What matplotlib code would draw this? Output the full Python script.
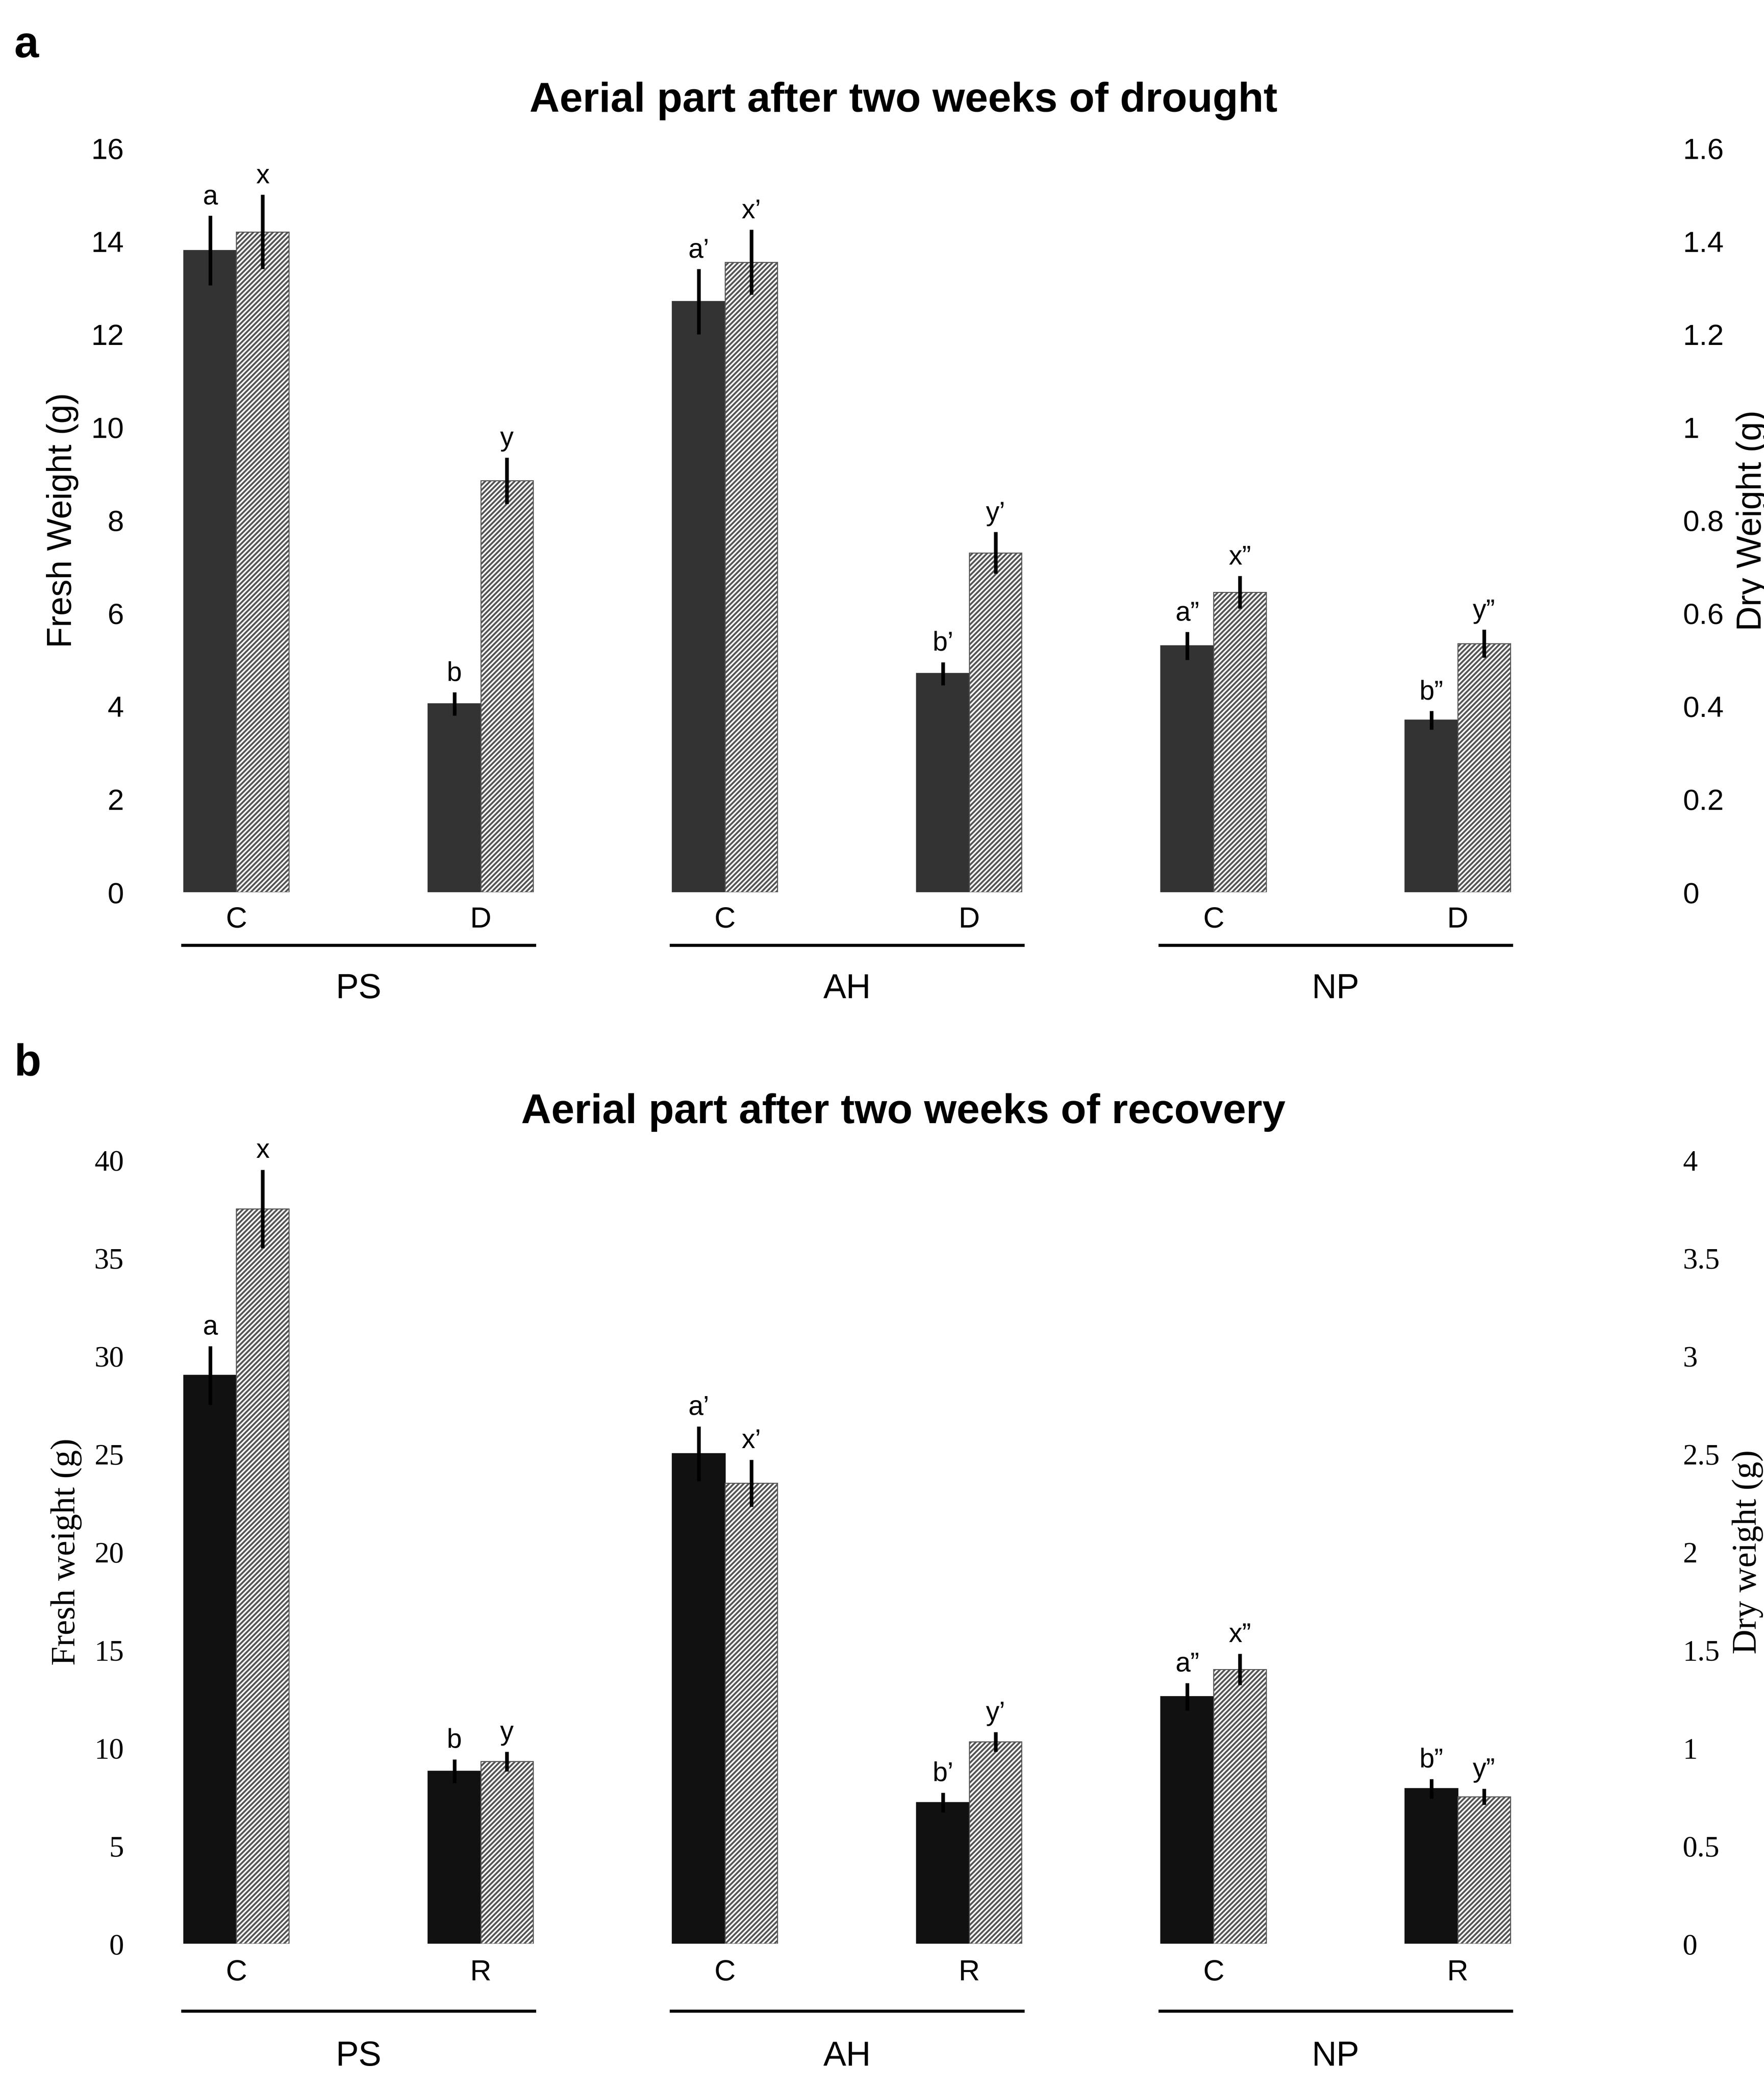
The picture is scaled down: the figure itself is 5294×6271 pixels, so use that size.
import numpy as np
import matplotlib.pyplot as plt

groups = ["PS", "AH", "NP"]
treat_a = ["C", "D"]
treat_b = ["C", "R"]

# panel a: drought
fresh_a = [13.8, 4.05, 12.7, 4.7, 5.3, 3.7]
fresh_a_err = [0.75, 0.25, 0.7, 0.25, 0.3, 0.2]
dry_a = [1.42, 0.885, 1.355, 0.73, 0.645, 0.535]
dry_a_err = [0.08, 0.05, 0.07, 0.045, 0.035, 0.03]
lab_fa = ["a", "b", "a\u2019", "b\u2019", "a\u201d", "b\u201d"]
lab_da = ["x", "y", "x\u2019", "y\u2019", "x\u201d", "y\u201d"]

# panel b: recovery
fresh_b = [29.0, 8.8, 25.0, 7.2, 12.6, 7.9]
fresh_b_err = [1.5, 0.6, 1.4, 0.5, 0.7, 0.5]
dry_b = [3.75, 0.93, 2.35, 1.03, 1.4, 0.75]
dry_b_err = [0.2, 0.05, 0.12, 0.05, 0.08, 0.04]
lab_fb = lab_fa
lab_db = lab_da

plt.rcParams['hatch.linewidth'] = 1.5
fig = plt.figure(figsize=(5994 / 300, 7100 / 300), dpi=300)

def panel(rect, fresh, ferr, dry, derr, lf, ld, treats, fmax, dmax, fstep, dstep,
          dark, font, ylab_l, ylab_r, title, ylines):
    ax = fig.add_axes(rect)
    ax2 = ax.twinx()
    x = np.array([0, 1, 2, 3, 4, 5], dtype=float)
    w = 0.215
    ax.bar(x - w / 2, fresh, w, color=dark, edgecolor=dark)
    ax.errorbar(x - w / 2, fresh, yerr=ferr, fmt="none", ecolor="black", elinewidth=3)
    ax2.bar(x + w / 2, dry, w, color="white", edgecolor="#555555", hatch="//////", linewidth=0.8)
    ax2.errorbar(x + w / 2, dry, yerr=derr, fmt="none", ecolor="black", elinewidth=3)
    for i in range(6):
        ax.text(x[i] - w / 2, fresh[i] + ferr[i] + fmax * 0.008, lf[i], ha="center",
                va="bottom", fontsize=22, family="Liberation Sans")
        ax2.text(x[i] + w / 2, dry[i] + derr[i] + dmax * 0.008, ld[i], ha="center",
                 va="bottom", fontsize=22, family="Liberation Sans")
    ax.set_ylim(0, fmax)
    ax2.set_ylim(0, dmax)
    ax.set_xlim(-0.26, 5.72)
    ax.set_yticks(np.arange(0, fmax + 0.01, fstep))
    ax2.set_yticks(np.arange(0, dmax + 0.001, dstep))
    ax2.set_yticklabels(["%g" % v for v in np.arange(0, dmax + 0.001, dstep)])
    for a in (ax, ax2):
        for s in a.spines.values():
            s.set_visible(False)
        a.tick_params(length=0, labelsize=24, pad=40)
        for t in a.get_yticklabels():
            t.set_family(font)
    ax.set_xticks([])
    ax.set_ylabel(ylab_l, fontsize=28, family=font, labelpad=10)
    ax2.set_ylabel(ylab_r, fontsize=28, family=font, labelpad=10)
    tr = ax.get_xaxis_transform()
    for i in range(6):
        ax.text(i, ylines[0], treats[i % 2], transform=tr, ha="center", va="center",
                fontsize=24, family="Liberation Sans")
    for g in range(3):
        ax.plot([2 * g - 0.22, 2 * g + 1.22], [ylines[1]] * 2, transform=tr,
                color="black", lw=2.5, clip_on=False)
        ax.text(2 * g + 0.5, ylines[2], groups[g], transform=tr, ha="center",
                va="center", fontsize=28, family="Liberation Sans")
    ax.set_title(title, fontsize=34, fontweight="bold", family="Liberation Sans", pad=30)
    return ax

panel([0.098, 0.573, 0.828, 0.356], fresh_a, fresh_a_err, dry_a, dry_a_err, lab_fa, lab_da,
      treat_a * 3, 16, 1.6, 2, 0.2, "#333333", "Liberation Sans",
      "Fresh Weight (g)", "Dry Weight (g)", "Aerial part after two weeks of drought",
      (-0.037, -0.071, -0.13))
panel([0.098, 0.070, 0.828, 0.375], fresh_b, fresh_b_err, dry_b, dry_b_err, lab_fb, lab_db,
      treat_b * 3, 40, 4, 5, 0.5, "#111111", "Liberation Serif",
      "Fresh weight (g)", "Dry weight (g)", "Aerial part after two weeks of recovery",
      (-0.037, -0.086, -0.144))

fig.text(0.008, 0.978, "a", fontsize=36, fontweight="bold", family="Liberation Sans", va="center")
fig.text(0.008, 0.491, "b", fontsize=36, fontweight="bold", family="Liberation Sans", va="center")
# full 300 dpi exceeds the reader's pixel limit, so save slightly smaller
fig.savefig("out.png", dpi=265)
